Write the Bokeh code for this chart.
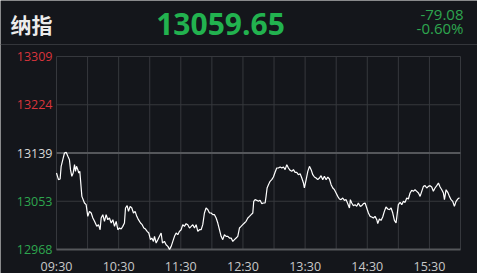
from bokeh.plotting import figure
from bokeh.models import FixedTicker, Label, Span, ColumnDataSource, LinearAxis
from bokeh.embed import file_html
from bokeh.resources import INLINE

title = "纳指"
last_price = 13059.65
change = "-79.08"
change_pct = "-0.60%"
prev_close = 13138.73

y_tick_values = [12968.23, 13053.48, 13138.73, 13223.98, 13309.23]
y_tick_labels = ["12968", "13053", "13139", "13224", "13309"]

x_label_minutes = [0, 60, 120, 180, 240, 300, 360]
x_labels = ["09:30", "10:30", "11:30", "12:30", "13:30", "14:30", "15:30"]
x_grid_minutes = [0, 30, 60, 90, 120, 150, 180, 210, 240, 270, 300, 330, 360, 390]

minutes = [0.0, 1.9, 3.5, 4.5, 6.1, 7.7, 9.3, 11.0, 12.5, 13.5, 14.8, 16.1, 17.4, 18.3, 19.3, 20.6, 21.5, 22.5,
           24.5, 27.0, 28.6, 30.2, 31.8, 33.5, 35.1, 36.7, 38.9, 40.5, 42.1, 43.1, 44.7, 46.3, 47.9, 49.5,
           51.1, 52.8, 54.4, 56.0, 57.6, 59.2, 60.8, 62.4, 64.0, 65.6, 66.6, 68.2, 69.5, 71.1, 72.7, 74.3,
           75.9, 77.5, 79.1, 81.1, 82.7, 84.3, 85.9, 87.5, 89.1, 90.7, 92.0, 93.6, 94.6, 96.2, 97.8, 99.4,
           101.0, 102.3, 104.2, 105.8, 107.5, 109.1, 110.7, 112.3, 113.9, 115.5, 117.1, 118.7, 120.3, 121.9,
           123.5, 125.1, 126.7, 128.4, 130.0, 131.6, 133.2, 134.8, 136.4, 138.0, 139.6, 141.2, 142.8, 144.4,
           146.1, 147.7, 149.3, 150.9, 152.5, 154.1, 155.7, 157.3, 158.9, 160.5, 162.1, 163.7, 165.4, 167.0,
           168.6, 170.2, 171.8, 173.4, 175.0, 176.6, 178.2, 179.8, 181.4, 183.0, 184.7, 186.3, 187.9, 189.5,
           190.4, 191.7, 193.3, 194.9, 196.5, 198.2, 199.8, 201.4, 202.3, 203.3, 204.6, 206.2, 207.8, 209.4,
           211.0, 212.6, 214.2, 215.9, 217.5, 219.1, 220.7, 222.3, 223.9, 225.5, 227.1, 228.7, 230.3, 231.9,
           233.5, 235.2, 236.8, 238.4, 239.3, 241.0, 242.6, 244.2, 245.8, 247.4, 249.0, 250.6, 252.2, 253.8,
           255.4, 257.0, 258.6, 260.3, 261.9, 263.5, 265.1, 266.7, 268.3, 269.9, 271.5, 273.1, 274.7, 276.3,
           277.9, 279.6, 281.2, 282.8, 283.7, 285.0, 286.6, 288.2, 289.8, 291.4, 293.1, 294.7, 296.3, 297.9,
           299.5, 301.1, 302.7, 304.3, 305.9, 307.5, 309.2, 310.1, 311.7, 313.3, 314.9, 316.5, 318.1, 319.8,
           321.4, 323.0, 324.6, 326.2, 327.8, 328.8, 330.0, 331.7, 333.3, 334.9, 336.5, 338.1, 339.7, 341.3,
           342.9, 344.5, 346.1, 347.8, 349.4, 351.0, 352.6, 354.2, 355.8, 357.4, 359.0, 360.6, 362.2, 363.8,
           365.4, 367.1, 368.7, 370.3, 371.9, 373.5, 374.5, 376.1, 377.7, 379.3, 380.9, 382.5, 384.1, 385.7,
           387.3, 389.0]

prices = [13103.4, 13091.6, 13092.8, 13115.2, 13126.9, 13138.7, 13139.9, 13132.8, 13126.9, 13109.3, 13097.5,
          13103.4, 13118.1, 13106.3, 13115.2, 13109.3, 13103.4, 13106.3,
          13062.1, 13050.4, 13047.4, 13026.8, 13035.6, 13032.7, 13023.9, 13018.0, 13009.1, 13012.1, 13003.2,
          13023.9, 13029.8, 13018.0, 13029.8, 13020.9, 13023.9, 13015.0, 13020.9, 13009.1, 13018.0, 13003.2,
          13006.2, 13004.4, 13009.1, 13015.0, 13041.5, 13045.7, 13035.6, 13044.5, 13041.5, 13032.7,
          13035.6, 13026.8, 13020.9, 13015.0, 13012.1, 13006.2, 13004.4, 13000.3, 12997.4, 12985.6, 12988.5,
          12982.6, 12991.5, 12979.7, 12985.6, 12991.5,
          12997.4, 12979.7, 12982.6, 12976.7, 12973.8, 12968.5, 12973.8, 12982.6, 12991.5, 12997.4, 12994.4,
          13000.3, 13003.2, 13012.1,
          13009.1, 13013.9, 13012.1, 13006.2, 13009.1, 13012.1, 13006.2, 13012.1, 13000.3, 13003.2, 13003.2,
          13012.1, 13032.7, 13041.5,
          13038.6, 13032.7, 13032.7, 13029.8, 13029.8, 13023.9, 13015.0, 13003.2, 12991.5, 12985.6, 12994.4,
          12991.5, 12991.5, 12988.5,
          12988.5, 12982.6, 12985.6, 12988.5, 12991.5, 13006.2, 13009.1, 13012.1, 13015.0, 13018.0, 13023.9,
          13026.8, 13029.8, 13032.7,
          13053.3, 13056.3, 13055.1, 13053.3, 13055.1, 13049.2, 13050.4, 13050.4, 13062.1, 13076.9, 13082.8,
          13088.7, 13091.6, 13096.3,
          13104.6, 13112.2, 13112.2, 13114.0, 13112.2, 13114.0, 13109.3, 13118.1, 13112.2, 13108.1, 13106.3,
          13109.3, 13104.6, 13104.6,
          13100.4, 13102.2, 13094.5, 13085.7, 13076.9, 13091.6, 13106.3, 13115.2, 13109.3, 13100.4, 13096.3,
          13094.5, 13091.6, 13094.5,
          13098.7, 13091.6, 13097.5, 13091.6, 13096.3, 13092.8, 13082.8, 13076.9, 13073.9, 13068.0, 13062.1,
          13057.4, 13056.3, 13059.2,
          13055.1, 13056.3, 13049.2, 13041.5, 13056.3, 13050.4, 13045.7, 13047.4, 13044.5, 13050.4, 13044.5,
          13045.7, 13049.2, 13050.4,
          13041.5, 13032.7, 13026.8, 13025.6, 13023.9, 13026.8, 13020.9, 13013.9, 13022.1, 13019.7, 13025.6,
          13035.6, 13043.3, 13039.8,
          13038.6, 13041.5, 13032.7, 13019.7, 13015.0, 13029.8, 13047.4, 13051.5, 13047.4, 13053.3, 13051.5,
          13059.2, 13057.4, 13068.0,
          13072.8, 13071.0, 13073.9, 13071.0, 13068.0, 13062.1, 13071.0, 13079.8, 13081.0, 13076.9, 13079.8,
          13081.0, 13078.6, 13071.0,
          13076.9, 13081.0, 13085.7, 13078.6, 13073.9, 13068.0, 13056.3, 13073.9, 13069.2, 13062.1, 13056.3,
          13053.3, 13044.5, 13053.3,
          13057.4, 13059.65]

# ---- layout (pixels) ----
W, H = 477, 273
PLOT_L, PLOT_R, PLOT_T, PLOT_B = 56, 460, 56, 249
HEADER_LINE_Y = 44

BG = "#14161b"
GRID = "#36383d"
STRONG = "#55575b"
GREEN = "#22b24f"
GREEN2 = "#2ea64f"
RED = "#d8343c"

t0, t1 = x_grid_minutes[0], x_grid_minutes[-1]
v0, v1 = y_tick_values[0], y_tick_values[-1]
sx = (PLOT_R - PLOT_L) / (t1 - t0)
sy = (PLOT_B - PLOT_T) / (v1 - v0)
x_start = t0 - PLOT_L / sx
x_end = t1 + (W - PLOT_R) / sx
y_end = v1 + PLOT_T / sy
y_start = v0 - (H - PLOT_B) / sy

p = figure(width=W, height=H, output_backend="svg", toolbar_location=None,
           x_range=(x_start, x_end), y_range=(y_start, y_end),
           min_border=0, min_border_left=0, min_border_right=0, min_border_top=0, min_border_bottom=0)
p.background_fill_color = BG
p.border_fill_color = BG
p.outline_line_color = None
p.xgrid.visible = False
p.ygrid.visible = False
p.yaxis.visible = False

# x axis drawn at the bottom line of the plot
xa = p.xaxis[0]
xa.fixed_location = v0
xa.ticker = FixedTicker(ticks=x_label_minutes)
xa.major_label_overrides = {m: s for m, s in zip(x_label_minutes, x_labels)}
xa.axis_line_color = None
xa.major_tick_line_color = None
xa.minor_tick_line_color = None
xa.major_tick_out = 0
xa.major_tick_in = 0
xa.minor_tick_out = 0
xa.major_label_text_color = "#c9c9c9"
xa.major_label_text_font = "Open Sans"
xa.major_label_text_font_size = "12.5px"
xa.major_label_standoff = 8

# y axes: red above previous close, white at it, green below
groups = [
    ([v for v in y_tick_values if v > prev_close + 1], RED),
    ([v for v in y_tick_values if abs(v - prev_close) <= 1], "#d8d8d8"),
    ([v for v in y_tick_values if v < prev_close - 1], GREEN2),
]
lab = dict(zip(y_tick_values, y_tick_labels))
for ticks, col in groups:
    ax = LinearAxis(ticker=FixedTicker(ticks=ticks), fixed_location=t0,
                    major_label_overrides={v: lab[v] for v in ticks})
    ax.axis_line_color = None
    ax.major_tick_line_color = None
    ax.minor_tick_line_color = None
    ax.major_tick_out = 0
    ax.major_tick_in = 0
    ax.minor_tick_out = 0
    ax.major_label_text_color = col
    ax.major_label_text_font = "Open Sans"
    ax.major_label_text_font_size = "12.5px"
    ax.major_label_standoff = 4
    p.add_layout(ax, "left")

# grid lines
p.segment(x0=x_grid_minutes, y0=[v0] * len(x_grid_minutes), x1=x_grid_minutes, y1=[v1] * len(x_grid_minutes),
          line_color=GRID, line_width=1)
p.segment(x0=[t0] * len(y_tick_values), y0=y_tick_values, x1=[t1] * len(y_tick_values), y1=y_tick_values,
          line_color=GRID, line_width=1)
p.segment(x0=[t0, t0], y0=[prev_close, v0], x1=[t1, t1], y1=[prev_close, v0], line_color=STRONG, line_width=2)

# header separator
p.add_layout(Span(location=v1 + (PLOT_T - HEADER_LINE_Y) / sy, dimension="width", line_color="#34363b",
                  line_width=1))

src = ColumnDataSource(data=dict(x=minutes, y=prices))
p.line("x", "y", source=src, line_color="white", line_width=1.2)

# header texts (screen units: x from left, y from bottom)
p.add_layout(Label(x=10, y=H - 23, x_units="screen", y_units="screen", text=title, text_color="#ececec",
                   text_font="Noto Sans CJK SC", text_font_style="bold", text_font_size="21px",
                   text_baseline="middle"))
p.add_layout(Label(x=220, y=H - 23, x_units="screen", y_units="screen", text=f"{last_price:.2f}",
                   text_color=GREEN, text_font="Open Sans", text_font_style="bold", text_font_size="30px",
                   text_align="center", text_baseline="middle"))
p.add_layout(Label(x=463, y=H - 14, x_units="screen", y_units="screen", text=change, text_color=GREEN2,
                   text_font="Open Sans", text_font_size="15px", text_align="right", text_baseline="middle"))
p.add_layout(Label(x=463, y=H - 27, x_units="screen", y_units="screen", text=change_pct, text_color=GREEN2,
                   text_font="Open Sans", text_font_size="15px", text_align="right", text_baseline="middle"))

open("out.html", "w").write(file_html(p, INLINE))
